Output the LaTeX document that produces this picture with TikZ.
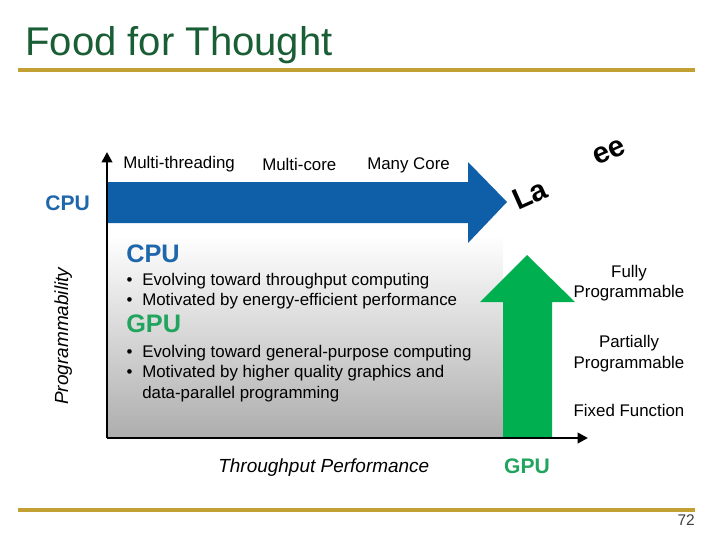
\documentclass[tikz,border=0pt]{standalone}
\usepackage{fontspec}
\setmainfont{Liberation Sans}
\usetikzlibrary{arrows.meta, positioning}
\definecolor{titlegreen}{HTML}{1A5E36}
\definecolor{gold}{HTML}{C3A033}
\definecolor{cpublue}{HTML}{0F5FA8}
\definecolor{cputext}{HTML}{1E67AA}
\definecolor{gpugreen}{HTML}{00B050}
\definecolor{gputext}{HTML}{20A45E}

\begin{document}
\begin{tikzpicture}[x=0.025cm, y=-0.025cm, >={Triangle[length=2.6mm, width=2.6mm]}, every node/.style={inner sep=0pt}]
\tikzset{
  goldline/.style={draw=gold, line width=2.2pt},
  axis/.style={->, line width=2pt},
  lbl/.style={font=\fontsize{12}{14}\selectfont, anchor=base west},
  rlbl/.style={font=\fontsize{12}{14}\selectfont, anchor=base},
  head/.style={font=\fontsize{18}{20}\selectfont\bfseries, anchor=base west},
  side/.style={font=\fontsize{15}{17}\selectfont\bfseries},
  ax/.style={font=\fontsize{13.5}{16}\selectfont\itshape, anchor=base west},
  big/.style={font=\fontsize{21}{24}\selectfont\bfseries, rotate=24, anchor=base west},
}
\useasboundingbox (0,0) rectangle (720,540);
% title and rules
\node[font=\fontsize{28.5}{32}\selectfont, text=titlegreen, anchor=base west] (title) at (25,55) {Food for Thought};
\draw[goldline] (18,70) -- (695,70);
\draw[goldline] (18,510) -- (695,510);
\node[font=\fontsize{11}{13}\selectfont, text=black!75, anchor=base east] (page) at (695,525) {72};
% background of the chart
\shade[top color=white, bottom color=black!32] (107,235) rectangle (503,438);
% CPU and GPU arrows
\fill[cpublue] (107,182) -- (468,182) -- (468,162) -- (507,202) -- (468,243) -- (468,223) -- (107,223) -- cycle;
\fill[gpugreen] (503,438) -- (503,302) -- (480,302) -- (527,255) -- (575,302) -- (552,302) -- (552,438) -- cycle;
% axes
\coordinate (origin) at (107,438);
\coordinate (ytop) at (107,152);
\coordinate (xend) at (588,438);
\draw[axis] (origin) -- (ytop);
\draw[axis] (origin) -- (xend);
\node[ax] (xlab) at (218,472) {Throughput Performance};
\node[ax, rotate=90] (ylab) at (68,405) {Programmability};
% labels along the CPU arrow
\node[lbl] (mt) at (123,168) {Multi-threading};
\node[lbl] (mc) at (262,170) {Multi-core};
\node[lbl] (many) at (367,169) {Many Core};
\node[side, text=cputext, anchor=base west] (cpuside) at (45,210) {CPU};
\node[side, text=gputext, anchor=base] (gpuside) at (527,473) {GPU};
% La...ee
\node[big] (la) at (518,211) {La};
\node[big] (ee) at (597,166) {ee};
% text in the chart
\node[head, text=cputext] (cpuhead) at (126,262) {CPU};
\node[lbl] (c1) at (142,285) {\llap{\textbullet\hspace{7pt}}Evolving toward throughput computing};
\node[lbl] (c2) at (142,305) {\llap{\textbullet\hspace{7pt}}Motivated by energy-efficient performance};
\node[head, text=gputext] (gpuhead) at (126,332) {GPU};
\node[lbl] (g1) at (142,357) {\llap{\textbullet\hspace{7pt}}Evolving toward general-purpose computing};
\node[lbl] (g2) at (142,377) {\llap{\textbullet\hspace{7pt}}Motivated by higher quality graphics and};
\node[lbl] (g3) at (142,398) {data-parallel programming};
% GPU levels
\node[rlbl] (fully) at (629,277) {Fully};
\node[rlbl] (fullyp) at (629,297) {Programmable};
\node[rlbl] (part) at (629,347) {Partially};
\node[rlbl] (partp) at (629,368) {Programmable};
\node[rlbl] (fixed) at (629,416) {Fixed Function};
\end{tikzpicture}
\end{document}
